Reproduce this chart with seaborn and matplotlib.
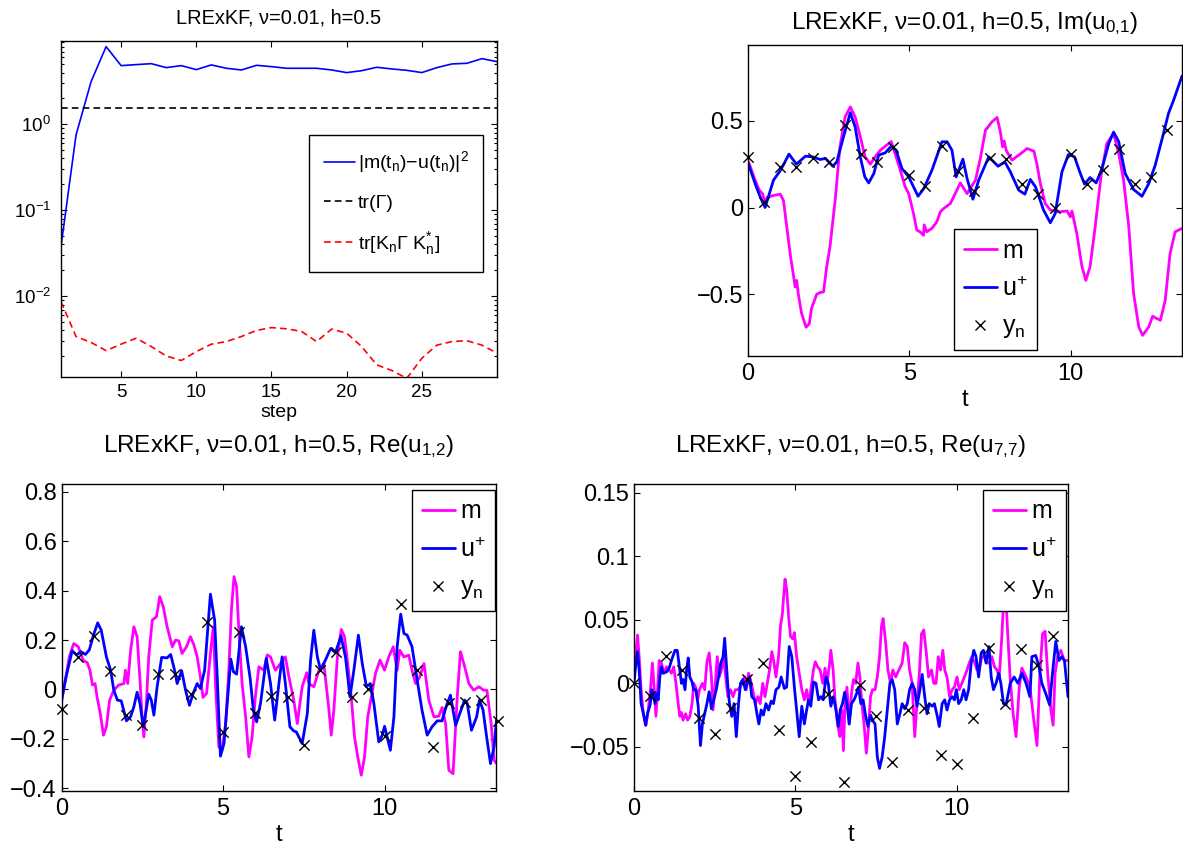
"""LRExKF filter diagnostics: error/trace on a log axis plus three mode traces."""
import matplotlib
matplotlib.use("Agg")
import matplotlib.pyplot as plt
import seaborn as sns
from matplotlib.lines import Line2D
from matplotlib.ticker import FuncFormatter, LogLocator, NullFormatter

# ---- panel 1: per-step diagnostics (log scale) ----
STEP = list(range(1, 31))
ERR = [0.038, 0.75, 3.13, 8.0, 4.81, 4.94, 5.07, 4.56, 4.81, 4.32,
       4.9, 4.48, 4.28, 4.85, 4.68, 4.48, 4.48, 4.48, 4.28, 3.99,
       4.2, 4.6, 4.4, 4.24, 3.99, 4.56, 5.03, 5.12, 5.8, 5.35]
TR_GAMMA = 1.53
TR_KGK = [0.00867, 0.0034, 0.0029, 0.00233, 0.00277, 0.00325, 0.0026, 0.00202, 0.00179, 0.00227,
          0.00277, 0.00297, 0.0034, 0.004, 0.00432, 0.00418, 0.0039, 0.00297, 0.00415, 0.00372,
          0.0026, 0.00159, 0.00137, 0.00111, 0.0019, 0.0027, 0.00297, 0.00304, 0.0027, 0.00218]

OBS_T = [0, 0.5, 1, 1.5, 2, 2.5, 3, 3.5, 4, 4.5, 5, 5.5, 6, 6.5, 7, 7.5, 8, 8.5, 9, 9.5,
         10, 10.5, 11, 11.5, 12, 12.5, 13, 13.5]

# ---- panel 2: Im(u_{0,1}) ----
IM01_U_T = [0.0, 0.22, 0.38, 0.53, 0.79, 1.01, 1.27, 1.5, 1.78, 2.0, 2.24, 2.4, 2.63, 2.75, 2.96,
            3.17, 3.32, 3.48, 3.62, 3.74, 3.9, 4.05, 4.25, 4.44, 4.59, 4.77, 4.98, 5.27, 5.45, 5.7,
            6.01, 6.17, 6.32, 6.45, 6.66, 6.79, 6.97, 7.15, 7.46, 7.75, 7.96, 8.13, 8.39, 8.58, 8.75,
            8.91, 9.16, 9.37, 9.52, 9.73, 9.93, 10.12, 10.3, 10.43, 10.6, 10.79, 10.97, 11.18, 11.33,
            11.49, 11.69, 11.95, 12.21, 12.42, 12.62, 12.85, 13.03, 13.19, 13.45]
IM01_U = [0.258, 0.138, 0.06, 0.0, 0.158, 0.215, 0.308, 0.25, 0.296, 0.292, 0.277, 0.283, 0.238, 0.263, 0.408,
          0.546, 0.465, 0.292, 0.177, 0.142, 0.196, 0.302, 0.315, 0.354, 0.331, 0.225, 0.177, 0.065, 0.11, 0.215,
          0.379, 0.379, 0.331, 0.177, 0.279, 0.167, 0.048, 0.158, 0.292, 0.238, 0.263, 0.206, 0.1, 0.077, 0.162,
          0.119, -0.015, -0.088, -0.035, 0.206, 0.306, 0.292, 0.196, 0.135, 0.173, 0.142, 0.225, 0.369, 0.435,
          0.379, 0.196, 0.104, 0.065, 0.138, 0.244, 0.408, 0.542, 0.619, 0.758]
IM01_M_T = [0.02, 0.2, 0.35, 0.45, 0.53, 0.6, 0.8, 1.0, 1.1, 1.2, 1.32, 1.4, 1.46, 1.51, 1.56, 1.66, 1.8, 1.9,
            1.97, 2.13, 2.23, 2.34, 2.44, 2.54, 2.7, 2.85, 3.01, 3.17, 3.32, 3.48, 3.63, 3.79, 3.94, 4.1,
            4.3, 4.44, 4.56, 4.72, 4.87, 4.98, 5.13, 5.23, 5.33, 5.44, 5.46, 5.54, 5.7, 5.85, 5.96, 6.06,
            6.27, 6.42, 6.58, 6.79, 7.05, 7.2, 7.36, 7.56, 7.72, 7.82, 7.89, 7.94, 8.0, 8.18, 8.39, 8.65,
            8.86, 8.96, 9.06, 9.21, 9.37, 9.63, 9.89, 9.99, 10.04, 10.19, 10.35, 10.47, 10.6, 10.76, 10.95,
            11.12, 11.33, 11.49, 11.64, 11.8, 11.95, 12.11, 12.23, 12.42, 12.54, 12.67, 12.78, 12.93, 13.08,
            13.24, 13.45]
IM01_M = [0.263, 0.167, 0.1, 0.08, 0.027, 0.06, 0.07, 0.077, 0.04, -0.11, -0.285, -0.38, -0.458, -0.42, -0.5,
          -0.61, -0.69, -0.67, -0.58, -0.5, -0.49, -0.487, -0.34, -0.227, 0.04, 0.35, 0.523, 0.58, 0.523,
          0.408, 0.292, 0.25, 0.292, 0.33, 0.36, 0.38, 0.31, 0.215, 0.12, 0.08, -0.035, -0.13, -0.14, -0.16,
          -0.1, -0.14, -0.12, -0.083, -0.025, -0.006, 0.023, 0.08, 0.142, 0.08, 0.158, 0.283, 0.446, 0.494,
          0.519, 0.437, 0.35, 0.383, 0.33, 0.273, 0.302, 0.34, 0.325, 0.244, 0.138, 0.023, -0.015, -0.025,
          -0.02, -0.054, -0.02, -0.15, -0.342, -0.42, -0.342, -0.11, 0.196, 0.369, 0.427, 0.31, 0.158, -0.11,
          -0.496, -0.688, -0.737, -0.688, -0.627, -0.64, -0.65, -0.535, -0.265, -0.14, -0.12]
IM01_Y = [0.292, 0.029, 0.233, 0.233, 0.288, 0.26, 0.473, 0.306, 0.26, 0.35, 0.187, 0.123, 0.354, 0.21,
          0.096, 0.288, 0.277, 0.133, 0.077, 0.0, 0.31, 0.138, 0.215, 0.335, 0.138, 0.177, 0.446]

# ---- panel 3: Re(u_{1,2}) ----
RE12_U_T = [0.0, 0.14, 0.33, 0.47, 0.6, 0.74, 0.86, 0.99, 1.12, 1.23, 1.39, 1.52, 1.62, 1.73, 1.85, 2.01,
            2.14, 2.24, 2.34, 2.43, 2.53, 2.62, 2.7, 2.78, 2.86, 2.96, 3.1, 3.27, 3.38, 3.5, 3.58, 3.72,
            3.84, 3.96, 4.08, 4.2, 4.3, 4.43, 4.61, 4.74, 4.82, 4.92, 5.03, 5.13, 5.24, 5.32, 5.42, 5.57,
            5.7, 5.84, 5.94, 6.04, 6.16, 6.34, 6.47, 6.6, 6.73, 6.83, 6.93, 7.07, 7.19, 7.27, 7.45, 7.61,
            7.71, 7.81, 7.92, 8.02, 8.17, 8.33, 8.48, 8.65, 8.79, 8.93, 9.05, 9.19, 9.31, 9.44, 9.56, 9.67,
            9.82, 9.93, 10.0, 10.08, 10.18, 10.29, 10.39, 10.5, 10.6, 10.7, 10.85, 11.01, 11.16, 11.32,
            11.47, 11.63, 11.78, 11.92, 12.04, 12.2, 12.33, 12.48, 12.56, 12.69, 12.85, 12.94, 13.05,
            13.16, 13.28, 13.39, 13.47]
RE12_U = [-0.043, 0.05, 0.157, 0.14, 0.153, 0.142, 0.16, 0.22, 0.27, 0.24, 0.132, 0.078, -0.003, -0.043,
          -0.046, -0.127, -0.11, -0.07, -0.011, -0.057, -0.151, -0.084, -0.019, -0.043, -0.104, 0.011, 0.13,
          0.128, 0.142, 0.078, 0.024, 0.076, -0.003, -0.064, -0.014, 0.024, 0.004, 0.078, 0.386, 0.281, 0.051,
          -0.27, -0.219, -0.057, 0.123, 0.072, 0.062, 0.254, 0.173, 0.045, -0.084, -0.131, -0.057, 0.126, 0.024,
          -0.124, 0.024, 0.132, 0.024, -0.151, -0.168, -0.172, -0.219, -0.097, 0.119, 0.24, 0.132, 0.078,
          0.119, 0.166, 0.149, 0.216, 0.132, -0.03, 0.078, 0.22, 0.105, 0.011, 0.024, -0.057, -0.212, -0.185,
          -0.149, -0.192, -0.246, -0.111, 0.173, 0.305, 0.227, 0.22, 0.173, 0.038, -0.084, -0.185, -0.151,
          -0.127, -0.127, -0.064, -0.023, -0.145, -0.097, -0.043, -0.057, -0.165, -0.111, -0.043, -0.084,
          -0.192, -0.3, -0.232, -0.118]
RE12_M_T = [0.0, 0.1, 0.24, 0.38, 0.52, 0.67, 0.8, 0.88, 0.96, 1.04, 1.1, 1.2, 1.3, 1.39, 1.49, 1.62, 1.77,
            1.93, 1.98, 2.05, 2.14, 2.24, 2.34, 2.43, 2.5, 2.55, 2.62, 2.7, 2.81, 2.94, 3.04, 3.15, 3.27,
            3.43, 3.53, 3.63, 3.73, 3.87, 3.99, 4.1, 4.2, 4.3, 4.38, 4.49, 4.56, 4.63, 4.7, 4.77, 4.87,
            4.97, 5.08, 5.18, 5.26, 5.34, 5.42, 5.5, 5.59, 5.7, 5.8, 5.9, 6.0, 6.11, 6.26, 6.37, 6.47,
            6.62, 6.78, 6.93, 7.04, 7.19, 7.3, 7.38, 7.45, 7.59, 7.66, 7.81, 7.97, 8.12, 8.28, 8.35, 8.43,
            8.54, 8.66, 8.76, 8.86, 8.97, 9.07, 9.17, 9.28, 9.38, 9.48, 9.59, 9.72, 9.86, 10.0, 10.13,
            10.27, 10.39, 10.47, 10.6, 10.75, 10.85, 10.96, 11.09, 11.22, 11.37, 11.53, 11.68, 11.78,
            11.89, 11.99, 12.12, 12.25, 12.35, 12.48, 12.61, 12.76, 12.92, 13.07, 13.17, 13.3, 13.39, 13.47]
RE12_M = [-0.05, 0.024, 0.132, 0.186, 0.173, 0.119, 0.108, 0.078, 0.018, 0.024, -0.03, -0.097, -0.185,
          -0.151, -0.043, -0.003, 0.018, 0.024, 0.078, 0.024, 0.159, 0.254, 0.214, 0.038, -0.124, -0.192,
          -0.07, 0.132, 0.281, 0.295, 0.376, 0.335, 0.254, 0.173, 0.2, 0.197, 0.146, 0.173, 0.214, 0.18,
          0.132, 0.051, -0.032, -0.016, 0.078, 0.173, 0.254, 0.011, -0.232, -0.246, -0.138, 0.078, 0.322,
          0.457, 0.416, 0.214, 0.024, -0.111, -0.273, -0.192, -0.03, 0.092, 0.078, 0.14, 0.132, 0.078, 0.105,
          0.132, 0.051, -0.043, -0.138, -0.057, 0.011, 0.068, 0.024, 0.011, 0.078, 0.105, -0.084, -0.185,
          -0.084, 0.132, 0.243, 0.214, 0.105, -0.03, -0.192, -0.273, -0.347, -0.273, -0.111, -0.03, 0.065,
          0.119, 0.078, 0.132, 0.173, 0.078, 0.159, 0.132, 0.139, 0.078, 0.024, 0.051, 0.105, -0.043, -0.111,
          -0.108, -0.073, -0.138, -0.327, -0.341, -0.03, 0.153, 0.092, 0.024, -0.003, 0.011, -0.003, -0.003,
          -0.138, -0.286, -0.3]
RE12_Y = [-0.081, 0.13, 0.218, 0.074, -0.104, -0.145, 0.062, 0.062, -0.019, 0.274, -0.172, 0.234, -0.095,
          -0.025, -0.03, -0.226, 0.078, 0.153, -0.03, 0.004, -0.189, 0.346, 0.078, -0.232, -0.054, -0.05,
          -0.043, -0.127]

# ---- panel 4: Re(u_{7,7}) ----
RE77_U_T = [0.0, 0.06, 0.11, 0.16, 0.22, 0.29, 0.36, 0.42, 0.5, 0.55, 0.6, 0.65, 0.7, 0.75, 0.8, 0.85, 0.9,
            1.01, 1.09, 1.16, 1.27, 1.34, 1.42, 1.47, 1.52, 1.58, 1.63, 1.68, 1.73, 1.8, 1.85, 1.92, 1.99,
            2.06, 2.12, 2.19, 2.26, 2.33, 2.4, 2.47, 2.55, 2.62, 2.69, 2.76, 2.81, 2.86, 2.91, 2.96, 3.03,
            3.1, 3.17, 3.24, 3.3, 3.37, 3.45, 3.51, 3.58, 3.65, 3.74, 3.81, 3.87, 3.94, 4.01, 4.09, 4.17,
            4.25, 4.32, 4.4, 4.49, 4.56, 4.66, 4.73, 4.81, 4.89, 4.97, 5.04, 5.12, 5.2, 5.28, 5.35, 5.41,
            5.48, 5.56, 5.64, 5.72, 5.79, 5.86, 5.95, 6.02, 6.1, 6.18, 6.26, 6.33, 6.39, 6.46, 6.53, 6.6,
            6.67, 6.74, 6.82, 6.9, 6.96, 7.03, 7.1, 7.18, 7.25, 7.33, 7.39, 7.47, 7.54, 7.61, 7.69, 7.77,
            7.85, 7.93, 8.0, 8.08, 8.16, 8.24, 8.31, 8.39, 8.47, 8.54, 8.62, 8.7, 8.77, 8.86, 8.93, 9.01,
            9.08, 9.15, 9.24, 9.31, 9.4, 9.46, 9.55, 9.63, 9.7, 9.78, 9.86, 9.93, 9.99, 10.06, 10.14, 10.22,
            10.29, 10.37, 10.45, 10.53, 10.6, 10.68, 10.76, 10.83, 10.91, 11.0, 11.07, 11.14, 11.22, 11.3,
            11.37, 11.45, 11.53, 11.66, 11.78, 11.9, 12.02, 12.15, 12.27, 12.33, 12.45, 12.55, 12.64,
            12.76, 12.88, 12.97, 13.07, 13.17, 13.26, 13.34, 13.45]
RE77_U = [0.0, 0.0158, 0.025, 0.0105, -0.0158, -0.0237, -0.033, -0.0237, -0.017, -0.005, -0.008, -0.016,
          -0.008, -0.013, 0.005, 0.013, 0.008, 0.009, 0.012, 0.018, 0.026, 0.026, 0.0105, 0.0, 0.003, -0.005,
          0.0105, 0.02, 0.005, 0.001, -0.005, -0.005, -0.018, -0.049, -0.032, -0.024, -0.016, -0.0066, -0.02,
          -0.013, -0.005, 0.005, 0.016, 0.021, 0.0355, 0.016, -0.003, -0.016, -0.026, -0.016, -0.042, -0.016,
          0.0, 0.003, -0.005, 0.0, 0.005, -0.0105, -0.013, -0.024, -0.032, -0.021, -0.025, -0.016, -0.021,
          -0.014, -0.016, -0.005, -0.003, 0.005, -0.004, -0.003, 0.029, 0.021, -0.003, -0.021, -0.042, -0.018,
          -0.032, -0.021, -0.013, -0.018, 0.001, 0.0, -0.013, -0.0105, -0.013, 0.005, 0.0, -0.018, -0.0105,
          -0.021, -0.034, -0.021, -0.016, -0.007, -0.016, -0.032, -0.016, -0.013, -0.008, -0.003, -0.016,
          -0.013, -0.026, -0.034, -0.025, -0.029, -0.032, -0.058, -0.067, -0.058, -0.042, -0.021, 0.0, 0.003,
          -0.005, -0.032, -0.024, -0.016, -0.02, -0.016, -0.005, 0.0, -0.005, -0.018, -0.005, 0.007, -0.0105,
          -0.024, -0.016, -0.018, -0.016, -0.026, -0.034, -0.016, -0.013, -0.021, -0.013, -0.0105, -0.013,
          -0.005, -0.016, -0.013, -0.005, -0.013, -0.005, 0.016, 0.026, 0.021, 0.005, 0.024, 0.026, 0.016,
          0.029, 0.005, -0.005, 0.0, 0.008, 0.0, -0.016, -0.017, 0.0, 0.005, 0.0, 0.008, 0.0, -0.0105, 0.021,
          0.022, 0.013, 0.0, -0.008, -0.017, 0.008, 0.033, 0.018, 0.021, 0.018, -0.0105]
RE77_M_T = [0.0, 0.05, 0.11, 0.16, 0.22, 0.29, 0.37, 0.44, 0.51, 0.57, 0.63, 0.68, 0.73, 0.78, 0.85, 0.93,
            1.01, 1.09, 1.16, 1.23, 1.3, 1.37, 1.42, 1.47, 1.52, 1.6, 1.66, 1.73, 1.8, 1.85, 1.91, 1.97,
            2.03, 2.12, 2.19, 2.26, 2.33, 2.4, 2.45, 2.51, 2.58, 2.64, 2.71, 2.78, 2.84, 2.91, 2.99, 3.07,
            3.14, 3.22, 3.29, 3.35, 3.42, 3.48, 3.55, 3.61, 3.68, 3.76, 3.84, 3.91, 3.99, 4.06, 4.13, 4.2,
            4.27, 4.33, 4.4, 4.48, 4.54, 4.6, 4.63, 4.68, 4.73, 4.79, 4.85, 4.92, 4.97, 5.04, 5.12, 5.2,
            5.28, 5.35, 5.41, 5.48, 5.56, 5.62, 5.69, 5.77, 5.85, 5.92, 5.98, 6.05, 6.1, 6.17, 6.23, 6.31,
            6.38, 6.44, 6.49, 6.54, 6.6, 6.67, 6.74, 6.8, 6.87, 6.94, 7.0, 7.06, 7.13, 7.2, 7.26, 7.33,
            7.39, 7.47, 7.54, 7.61, 7.67, 7.72, 7.8, 7.87, 7.95, 8.02, 8.11, 8.21, 8.31, 8.39, 8.47, 8.54,
            8.62, 8.7, 8.77, 8.85, 8.91, 8.98, 9.05, 9.13, 9.22, 9.29, 9.36, 9.43, 9.5, 9.57, 9.63, 9.7,
            9.78, 9.86, 9.93, 10.01, 10.08, 10.16, 10.24, 10.32, 10.39, 10.47, 10.56, 10.63, 10.7, 10.78,
            10.86, 10.93, 11.0, 11.09, 11.17, 11.25, 11.32, 11.4, 11.45, 11.52, 11.57, 11.66, 11.75, 11.84,
            11.94, 12.02, 12.15, 12.27, 12.39, 12.49, 12.58, 12.66, 12.74, 12.82, 12.92, 12.99, 13.05,
            13.13, 13.23, 13.33, 13.45]
RE77_M = [0.005, 0.021, 0.038, 0.021, -0.005, -0.024, -0.033, -0.021, -0.005, 0.016, -0.005, -0.026, -0.005,
          0.018, 0.016, 0.008, 0.013, 0.0105, 0.008, 0.013, 0.0, -0.016, -0.026, -0.023, -0.029, -0.024, -0.029,
          -0.026, -0.016, 0.0, -0.003, -0.013, -0.005, 0.0, -0.005, 0.017, 0.024, 0.005, -0.021, -0.003, 0.021,
          0.005, 0.0105, 0.021, 0.005, -0.0105, -0.005, -0.0105, -0.005, -0.005, -0.003, 0.0, 0.005, -0.005,
          0.008, 0.003, -0.005, -0.016, -0.0105, -0.016, 0.0, -0.0105, 0.0, 0.0105, 0.025, 0.018, 0.005, 0.021,
          0.045, 0.055, 0.066, 0.082, 0.074, 0.053, 0.037, 0.035, 0.04, 0.021, 0.008, -0.005, -0.013, -0.005,
          -0.016, -0.005, 0.0105, 0.017, 0.013, 0.0105, 0.0, 0.012, 0.0, 0.013, 0.026, 0.0105, -0.013, -0.032,
          -0.042, -0.021, -0.053, -0.016, -0.003, -0.032, -0.008, 0.003, 0.0, 0.016, 0.005, -0.016, -0.032,
          -0.055, -0.037, -0.0105, -0.005, -0.005, 0.005, 0.021, 0.045, 0.051, 0.032, 0.0105, 0.0, 0.0105,
          0.005, 0.0105, 0.016, 0.032, 0.029, 0.0105, 0.0, -0.042, -0.016, 0.0105, 0.039, 0.042, 0.026, 0.005,
          0.0105, 0.0, 0.0, 0.021, 0.0105, 0.026, 0.0105, 0.005, -0.0105, -0.005, -0.003, 0.005, -0.005, 0.0,
          0.005, 0.0105, 0.016, 0.021, 0.016, 0.0105, 0.0105, 0.021, 0.021, 0.016, 0.016, 0.021, 0.013, 0.0105,
          0.005, 0.037, 0.063, 0.07, 0.045, 0.003, -0.024, -0.042, -0.003, 0.012, 0.005, -0.003, -0.029,
          -0.049, 0.008, 0.039, 0.041, 0.008, -0.021, -0.033, 0.008, 0.021, 0.026, 0.018, 0.018]
RE77_Y = [0.0, -0.01, 0.0216, 0.0105, -0.0276, -0.04, -0.0192, 0.0032, 0.0163, -0.0369, -0.073, -0.046,
          -0.0084, -0.078, -0.0013, -0.026, -0.062, -0.021, -0.0197, -0.0566, -0.0637, -0.0276, 0.0276,
          -0.0164, 0.0268, 0.0145, 0.0374]

MAGENTA = "#ff00ff"
BLUE = "#0000ff"
W, H = 1183, 847
TICK_FS = 17
TITLE_FS = 17.5


def fig_rect(left, top, right, bottom):
    # pixel box -> figure fraction [x0, y0, w, h]
    return [left / W, 1 - bottom / H, (right - left) / W, (bottom - top) / H]


def num_fmt(v, _pos):
    if abs(v) < 1e-12:
        return "0"
    return f"{v:g}".replace("-", "\u2212")


def style_axes(ax, size):
    for s in ax.spines.values():
        s.set_linewidth(1.0)
        s.set_color("k")
    ax.tick_params(which="both", direction="in", top=True, right=True,
                   labelsize=size, width=0.8, colors="k")
    ax.tick_params(which="major", length=4)
    ax.tick_params(which="minor", length=2)


def box_legend(ax, handles, labels, corner, size, **kw):
    leg = ax.legend(handles, labels, loc="upper left", bbox_to_anchor=(corner[0] / W, 1 - corner[1] / H),
                    bbox_transform=ax.figure.transFigure, fontsize=size, frameon=True, fancybox=False,
                    edgecolor="k", framealpha=1, borderaxespad=0, **kw)
    leg.get_frame().set_linewidth(1.0)
    return leg


def trace_panel(fig, rect, t_m, m, t_u, u, obs, title, ylim, yticks, leg_corner, title_y):
    ax = fig.add_axes(fig_rect(*rect))
    sns.lineplot(x=t_m, y=m, ax=ax, color=MAGENTA, linewidth=2, estimator=None)
    sns.lineplot(x=t_u, y=u, ax=ax, color=BLUE, linewidth=2, estimator=None)
    sns.scatterplot(x=OBS_T[:len(obs)], y=obs, ax=ax, marker="x", color="k", s=55,
                    linewidth=1.0, zorder=4, clip_on=False)
    ax.set_xlim(0, 13.45)
    ax.set_ylim(*ylim)
    ax.set_xticks([0, 5, 10])
    ax.set_yticks(yticks)
    ax.xaxis.set_major_formatter(FuncFormatter(num_fmt))
    ax.yaxis.set_major_formatter(FuncFormatter(num_fmt))
    ax.set_xlabel("")
    ax.set_ylabel("")
    style_axes(ax, TICK_FS)
    ax.tick_params(axis="x", pad=5)
    ax.tick_params(axis="y", pad=3.5)
    handles = [Line2D([], [], color=MAGENTA, lw=2), Line2D([], [], color=BLUE, lw=2),
               Line2D([], [], color="k", marker="x", ls="none", ms=7, mew=1)]
    box_legend(ax, handles, ["m", "u$^{+}$", "y$_{n}$"], leg_corner, 18,
               handlelength=1.35, handletextpad=0.2, labelspacing=0.55, borderpad=0.38)
    cx = (rect[0] + rect[2]) / 2 / W
    fig.text(cx, 1 - title_y / H, title, ha="center", va="baseline", fontsize=TITLE_FS)
    fig.text(cx, 1 - (rect[3] + 44) / H, "t", ha="center", va="center", fontsize=TICK_FS)
    return ax


sns.set_style("ticks")
plt.rcParams["font.family"] = ["Liberation Sans", "DejaVu Sans"]
plt.rcParams["mathtext.fontset"] = "custom"
plt.rcParams["mathtext.rm"] = "Liberation Sans"
plt.rcParams["mathtext.it"] = "Liberation Sans"
plt.rcParams["mathtext.bf"] = "Liberation Sans:bold"
plt.rcParams["mathtext.default"] = "regular"
plt.rcParams["axes.unicode_minus"] = True
plt.rcParams["text.color"] = "black"
plt.rcParams["axes.labelcolor"] = "black"
plt.rcParams["xtick.color"] = "black"
plt.rcParams["ytick.color"] = "black"

fig = plt.figure(figsize=(W / 100, H / 100), dpi=100)

# --- top-left: log diagnostics ---
rect = (61, 41, 497, 377)
ax = fig.add_axes(fig_rect(*rect))
sns.lineplot(x=STEP, y=ERR, ax=ax, color=BLUE, linewidth=1.2, estimator=None)
sns.lineplot(x=STEP, y=[TR_GAMMA] * len(STEP), ax=ax, color="k", linewidth=1.2, estimator=None)
sns.lineplot(x=STEP, y=TR_KGK, ax=ax, color="red", linewidth=1.2, estimator=None)
ax.lines[1].set_dashes((4, 2.5))
ax.lines[2].set_dashes((4, 2.5))
ax.set_yscale("log")
ax.set_xlim(1, 30)
ax.set_ylim(0.00115, 9.3)
ax.set_xticks([5, 10, 15, 20, 25])
ax.yaxis.set_major_locator(LogLocator(base=10, numticks=10))
ax.yaxis.set_minor_locator(LogLocator(base=10, subs=range(2, 10), numticks=20))
ax.yaxis.set_minor_formatter(NullFormatter())
ax.set_xlabel("")
ax.set_ylabel("")
style_axes(ax, 13.5)
ax.tick_params(axis="y", pad=7)
ax.tick_params(axis="x", pad=5)
handles = [Line2D([], [], color=BLUE, lw=1.2),
           Line2D([], [], color="k", lw=1.2, dashes=(4, 2.5)),
           Line2D([], [], color="red", lw=1.2, dashes=(4, 2.5))]
labels = ["|m(t$_n$)\u2212u(t$_n$)|$^2$", "tr(\u0393)", "tr[K$_n$\u0393 K$_n^{*}$]"]
box_legend(ax, handles, labels, (309, 135), 14, handlelength=1.6, handletextpad=0.15,
           labelspacing=0.95, borderpad=0.75)
fig.text(279 / W, 1 - 23.3 / H, "LRExKF, \u03bd=0.01, h=0.5", ha="center", va="baseline", fontsize=14.4)
fig.text(279 / W, 1 - 412 / H, "step", ha="center", va="center", fontsize=14)

# --- the three mode traces ---
trace_panel(fig, (748, 45, 1182, 356), IM01_M_T, IM01_M, IM01_U_T, IM01_U, IM01_Y,
            "LRExKF, \u03bd=0.01, h=0.5, Im(u$_{0{,}1}$)", (-0.856, 0.937), [-0.5, 0, 0.5],
            (954, 229), 29.3)
trace_panel(fig, (61.5, 484, 496, 791), RE12_M_T, RE12_M, RE12_U_T, RE12_U, RE12_Y,
            "LRExKF, \u03bd=0.01, h=0.5, Re(u$_{1{,}2}$)", (-0.411, 0.832),
            [-0.4, -0.2, 0, 0.2, 0.4, 0.6, 0.8], (412, 490), 451.7)
trace_panel(fig, (634, 484, 1068, 791), RE77_M_T, RE77_M, RE77_U_T, RE77_U, RE77_Y,
            "LRExKF, \u03bd=0.01, h=0.5, Re(u$_{7{,}7}$)", (-0.0848, 0.157),
            [-0.05, 0, 0.05, 0.1, 0.15], (983, 490), 451.7)

fig.savefig("out.png", dpi=100)
